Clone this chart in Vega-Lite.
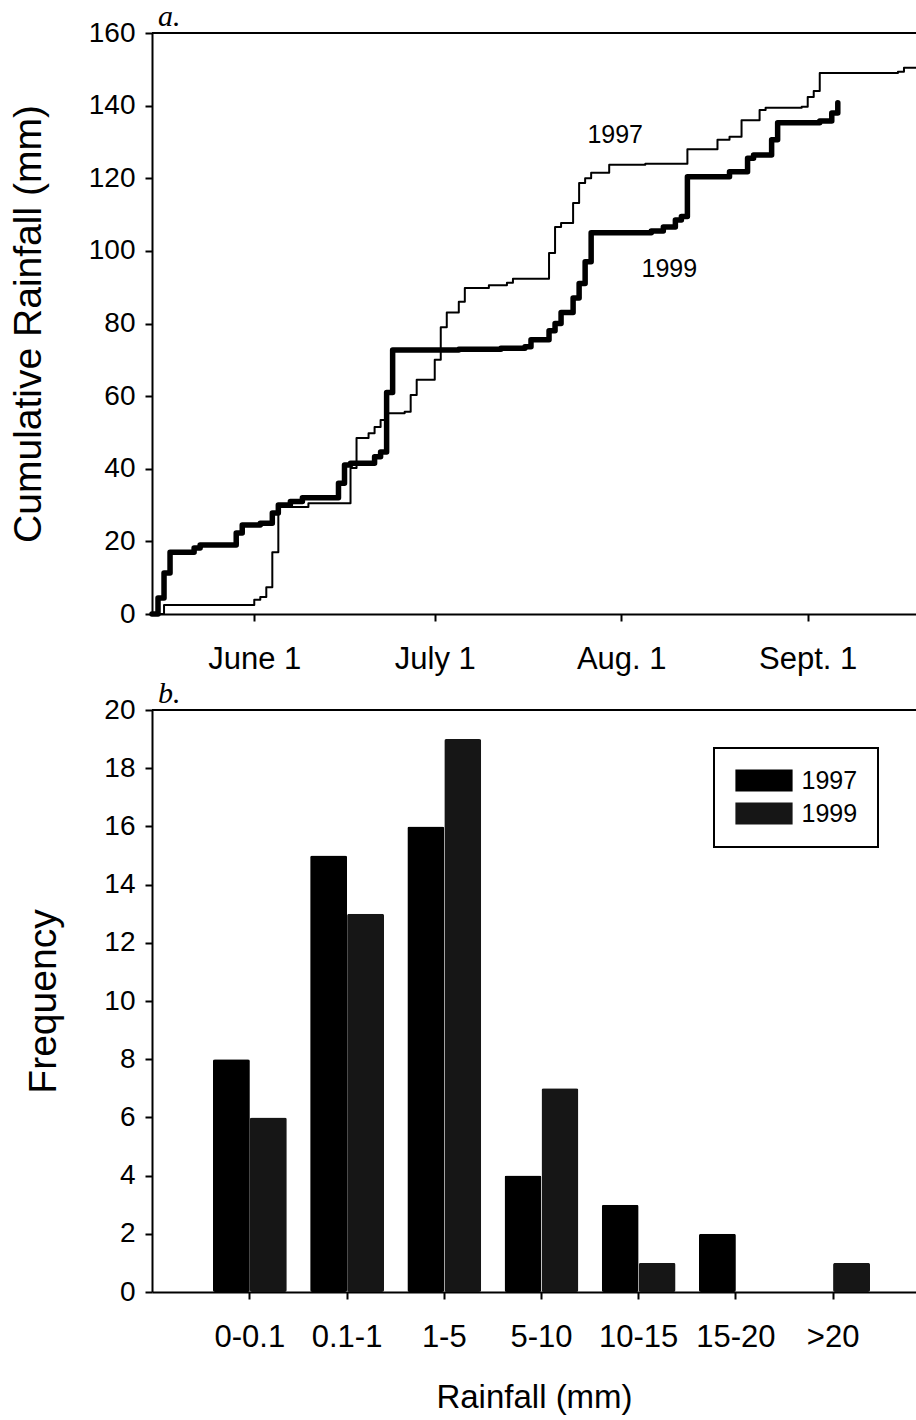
{
  "$schema": "https://vega.github.io/schema/vega-lite/v6.json",
  "background": "white",
  "padding": {"left": 9, "top": 2, "right": 0, "bottom": 2},
  "spacing": 5,
  "resolve": {"scale": {"color": "independent", "strokeWidth": "independent"}, "legend": {"color": "independent", "strokeWidth": "independent"}},
  "config": {
    "view": {"stroke": null},
    "font": "Liberation Sans",
    "legend": {"strokeWidth": 2},
    "axis": {
      "domainColor": "black", "domainWidth": 2, "tickColor": "black", "tickWidth": 2,
      "labelColor": "black", "titleColor": "black", "grid": false,
      "labelFont": "Liberation Sans", "titleFont": "Liberation Sans", "titleFontWeight": "normal",
      "labelFontSize": 28, "titleFontSize": 39, "tickSize": 7
    },
    "title": {"font": "Liberation Serif", "fontStyle": "italic", "fontWeight": "normal", "fontSize": 30, "anchor": "start", "frame": "group", "offset": -13, "color": "black"}
  },
  "vconcat": [
    {
      "title": {"text": "a.", "dx": 6},
      "width": 764,
      "height": 581,
      "layer": [
        {
          "data": {"values": [
            {"year": "1997", "date": "2001/05/15", "rainfall": 0},
            {"year": "1997", "date": "2001/05/17", "rainfall": 2.5},
            {"year": "1997", "date": "2001/06/01", "rainfall": 3.9},
            {"year": "1997", "date": "2001/06/02", "rainfall": 4.7},
            {"year": "1997", "date": "2001/06/03", "rainfall": 7.4},
            {"year": "1997", "date": "2001/06/04", "rainfall": 17},
            {"year": "1997", "date": "2001/06/05", "rainfall": 29.5},
            {"year": "1997", "date": "2001/06/10", "rainfall": 30.5},
            {"year": "1997", "date": "2001/06/17", "rainfall": 40.2},
            {"year": "1997", "date": "2001/06/18", "rainfall": 48.5},
            {"year": "1997", "date": "2001/06/20", "rainfall": 49.8},
            {"year": "1997", "date": "2001/06/21", "rainfall": 51.5},
            {"year": "1997", "date": "2001/06/22", "rainfall": 53.4},
            {"year": "1997", "date": "2001/06/23", "rainfall": 55.3},
            {"year": "1997", "date": "2001/06/26", "rainfall": 55.7},
            {"year": "1997", "date": "2001/06/27", "rainfall": 60.3},
            {"year": "1997", "date": "2001/06/28", "rainfall": 64.5},
            {"year": "1997", "date": "2001/07/01", "rainfall": 70},
            {"year": "1997", "date": "2001/07/02", "rainfall": 79},
            {"year": "1997", "date": "2001/07/03", "rainfall": 83},
            {"year": "1997", "date": "2001/07/05", "rainfall": 86},
            {"year": "1997", "date": "2001/07/06", "rainfall": 89.8},
            {"year": "1997", "date": "2001/07/10", "rainfall": 90.5},
            {"year": "1997", "date": "2001/07/13", "rainfall": 91.2},
            {"year": "1997", "date": "2001/07/14", "rainfall": 92.3},
            {"year": "1997", "date": "2001/07/20", "rainfall": 99.4},
            {"year": "1997", "date": "2001/07/21", "rainfall": 106.6},
            {"year": "1997", "date": "2001/07/22", "rainfall": 107.7},
            {"year": "1997", "date": "2001/07/24", "rainfall": 113.2},
            {"year": "1997", "date": "2001/07/25", "rainfall": 118.7},
            {"year": "1997", "date": "2001/07/26", "rainfall": 120},
            {"year": "1997", "date": "2001/07/27", "rainfall": 121.5},
            {"year": "1997", "date": "2001/07/30", "rainfall": 123.7},
            {"year": "1997", "date": "2001/08/05", "rainfall": 124},
            {"year": "1997", "date": "2001/08/12", "rainfall": 128},
            {"year": "1997", "date": "2001/08/17", "rainfall": 130.6},
            {"year": "1997", "date": "2001/08/19", "rainfall": 131.4},
            {"year": "1997", "date": "2001/08/21", "rainfall": 136},
            {"year": "1997", "date": "2001/08/24", "rainfall": 138.8},
            {"year": "1997", "date": "2001/08/25", "rainfall": 139.4},
            {"year": "1997", "date": "2001/08/31", "rainfall": 139.7},
            {"year": "1997", "date": "2001/09/01", "rainfall": 142.4},
            {"year": "1997", "date": "2001/09/02", "rainfall": 144},
            {"year": "1997", "date": "2001/09/03", "rainfall": 149},
            {"year": "1997", "date": "2001/09/16", "rainfall": 149.3},
            {"year": "1997", "date": "2001/09/17", "rainfall": 150.4},
            {"year": "1997", "date": "2001/09/19", "rainfall": 150.4},
            {"year": "1999", "date": "2001/05/15", "rainfall": 0},
            {"year": "1999", "date": "2001/05/16", "rainfall": 4.4},
            {"year": "1999", "date": "2001/05/17", "rainfall": 11.3},
            {"year": "1999", "date": "2001/05/18", "rainfall": 17},
            {"year": "1999", "date": "2001/05/22", "rainfall": 18.2},
            {"year": "1999", "date": "2001/05/23", "rainfall": 19},
            {"year": "1999", "date": "2001/05/29", "rainfall": 22.3},
            {"year": "1999", "date": "2001/05/30", "rainfall": 24.5},
            {"year": "1999", "date": "2001/06/02", "rainfall": 25},
            {"year": "1999", "date": "2001/06/04", "rainfall": 27.8},
            {"year": "1999", "date": "2001/06/05", "rainfall": 30},
            {"year": "1999", "date": "2001/06/07", "rainfall": 31},
            {"year": "1999", "date": "2001/06/09", "rainfall": 32},
            {"year": "1999", "date": "2001/06/15", "rainfall": 36},
            {"year": "1999", "date": "2001/06/16", "rainfall": 41},
            {"year": "1999", "date": "2001/06/17", "rainfall": 41.5},
            {"year": "1999", "date": "2001/06/21", "rainfall": 43.3},
            {"year": "1999", "date": "2001/06/22", "rainfall": 44.6},
            {"year": "1999", "date": "2001/06/23", "rainfall": 61},
            {"year": "1999", "date": "2001/06/24", "rainfall": 72.7},
            {"year": "1999", "date": "2001/07/05", "rainfall": 72.9},
            {"year": "1999", "date": "2001/07/12", "rainfall": 73.2},
            {"year": "1999", "date": "2001/07/16", "rainfall": 73.6},
            {"year": "1999", "date": "2001/07/17", "rainfall": 75.5},
            {"year": "1999", "date": "2001/07/20", "rainfall": 78},
            {"year": "1999", "date": "2001/07/21", "rainfall": 80},
            {"year": "1999", "date": "2001/07/22", "rainfall": 83},
            {"year": "1999", "date": "2001/07/24", "rainfall": 87},
            {"year": "1999", "date": "2001/07/25", "rainfall": 91},
            {"year": "1999", "date": "2001/07/26", "rainfall": 97},
            {"year": "1999", "date": "2001/07/27", "rainfall": 105},
            {"year": "1999", "date": "2001/08/06", "rainfall": 105.5},
            {"year": "1999", "date": "2001/08/08", "rainfall": 106.6},
            {"year": "1999", "date": "2001/08/10", "rainfall": 108.5},
            {"year": "1999", "date": "2001/08/11", "rainfall": 109.5},
            {"year": "1999", "date": "2001/08/12", "rainfall": 120.4},
            {"year": "1999", "date": "2001/08/19", "rainfall": 121.8},
            {"year": "1999", "date": "2001/08/22", "rainfall": 125.5},
            {"year": "1999", "date": "2001/08/23", "rainfall": 126.4},
            {"year": "1999", "date": "2001/08/26", "rainfall": 130.6},
            {"year": "1999", "date": "2001/08/27", "rainfall": 135.3},
            {"year": "1999", "date": "2001/09/03", "rainfall": 135.8},
            {"year": "1999", "date": "2001/09/05", "rainfall": 138},
            {"year": "1999", "date": "2001/09/06", "rainfall": 140.8}
          ]},
          "mark": {"type": "line", "interpolate": "step-after", "color": "black", "strokeJoin": "round", "strokeCap": "round"},
          "encoding": {
            "x": {
              "field": "date", "type": "temporal",
              "scale": {"domain": [{"year": 2001, "month": "May", "date": 15}, {"year": 2001, "month": "September", "date": 19}]},
              "axis": {
                "title": null, "labelPadding": 23, "labelFontSize": 31,
                "values": [
                  {"year": 2001, "month": "June", "date": 1},
                  {"year": 2001, "month": "July", "date": 1},
                  {"year": 2001, "month": "August", "date": 1},
                  {"year": 2001, "month": "September", "date": 1}
                ],
                "labelExpr": "['', '', '', '', '', 'June 1', 'July 1', 'Aug. 1', 'Sept. 1', '', '', ''][month(datum.value)]"
              }
            },
            "y": {
              "field": "rainfall", "type": "quantitative",
              "scale": {"domain": [0, 160], "nice": false},
              "axis": {"title": "Cumulative Rainfall (mm)", "values": [0, 20, 40, 60, 80, 100, 120, 140, 160], "labelPadding": 10, "titlePadding": 40}
            },
            "detail": {"field": "year", "type": "nominal"},
            "strokeWidth": {"field": "year", "type": "nominal", "scale": {"domain": ["1997", "1999"], "range": [2, 5.5]}, "legend": null}
          }
        },
        {
          "data": {"values": [
            {"date": "2001/07/31", "rainfall": 132, "label": "1997"},
            {"date": "2001/08/09", "rainfall": 95, "label": "1999"}
          ]},
          "mark": {"type": "text", "font": "Liberation Sans", "fontSize": 25, "color": "black"},
          "encoding": {
            "x": {"field": "date", "type": "temporal"},
            "y": {"field": "rainfall", "type": "quantitative"},
            "text": {"field": "label", "type": "nominal"}
          }
        },
        {
          "data": {"values": [{"top": 160}]},
          "mark": {"type": "rule", "color": "black", "strokeWidth": 2},
          "encoding": {"y": {"field": "top", "type": "quantitative"}}
        }
      ]
    },
    {
      "title": {"text": "b.", "dx": 6},
      "width": 764,
      "height": 582,
      "layer": [
        {
          "data": {"values": [
            {"rainfall_class": "0-0.1", "year": "1997", "frequency": 8},
            {"rainfall_class": "0-0.1", "year": "1999", "frequency": 6},
            {"rainfall_class": "0.1-1", "year": "1997", "frequency": 15},
            {"rainfall_class": "0.1-1", "year": "1999", "frequency": 13},
            {"rainfall_class": "1-5", "year": "1997", "frequency": 16},
            {"rainfall_class": "1-5", "year": "1999", "frequency": 19},
            {"rainfall_class": "5-10", "year": "1997", "frequency": 4},
            {"rainfall_class": "5-10", "year": "1999", "frequency": 7},
            {"rainfall_class": "10-15", "year": "1997", "frequency": 3},
            {"rainfall_class": "10-15", "year": "1999", "frequency": 1},
            {"rainfall_class": "15-20", "year": "1997", "frequency": 2},
            {"rainfall_class": "15-20", "year": "1999", "frequency": 0},
            {"rainfall_class": ">20", "year": "1997", "frequency": 0},
            {"rainfall_class": ">20", "year": "1999", "frequency": 1}
          ]},
          "mark": {"type": "bar", "cornerRadius": 2},
          "encoding": {
            "x": {
              "field": "rainfall_class", "type": "nominal",
              "sort": ["0-0.1", "0.1-1", "1-5", "5-10", "10-15", "15-20", ">20"],
              "scale": {"paddingInner": 0.24, "paddingOuter": 0.55, "align": 0.57},
              "axis": {"title": "Rainfall (mm)", "titleFontSize": 33, "labelFontSize": 31, "labelAngle": 0, "labelPadding": 23, "titlePadding": 29}
            },
            "xOffset": {"field": "year", "type": "nominal", "scale": {"paddingInner": 0, "paddingOuter": 0}},
            "y": {
              "field": "frequency", "type": "quantitative",
              "scale": {"domain": [0, 20], "nice": false},
              "axis": {"title": "Frequency", "values": [0, 2, 4, 6, 8, 10, 12, 14, 16, 18, 20], "labelPadding": 10, "titlePadding": 40}
            },
            "color": {
              "field": "year", "type": "nominal",
              "scale": {"domain": ["1997", "1999"], "range": ["#000000", "#161616"]},
              "legend": {
                "title": null, "orient": "top-right", "offset": 38,
                "strokeColor": "black", "fillColor": "white", "padding": 20,
                "labelFontSize": 25, "labelFont": "Liberation Sans", "labelColor": "black", "labelOffset": 25,
                "symbolType": "M-2.6,-1H2.6V1H-2.6Z", "symbolSize": 484, "symbolOffset": 17.5,
                "symbolStrokeWidth": 0, "symbolOpacity": 1,
                "rowPadding": 7
              }
            }
          }
        },
        {
          "data": {"values": [{"top": 20}]},
          "mark": {"type": "rule", "color": "black", "strokeWidth": 2},
          "encoding": {"y": {"field": "top", "type": "quantitative"}}
        }
      ]
    }
  ]
}
